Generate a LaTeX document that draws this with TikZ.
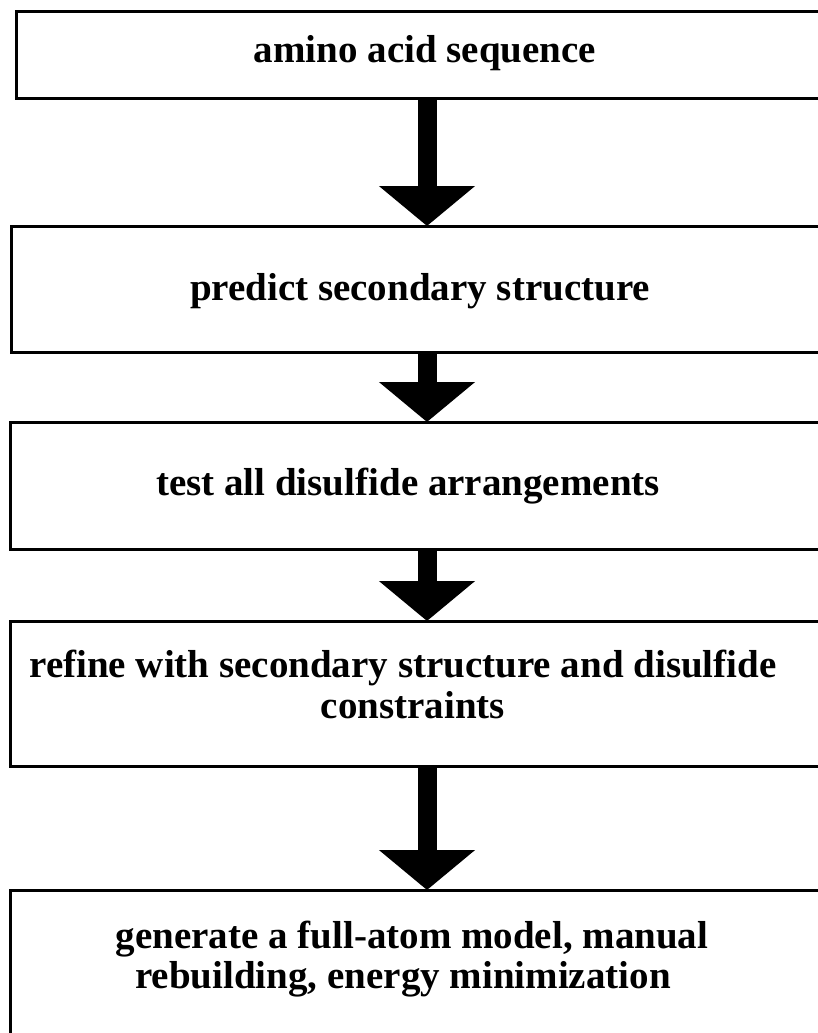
\documentclass[tikz,border=0pt]{standalone}
\usepackage{fontspec}
\setmainfont{Liberation Serif}
\usetikzlibrary{arrows.meta}
\begin{document}
\begin{tikzpicture}[x=1pt,y=-1pt,
  box/.style={draw=black, line width=3pt, rectangle, anchor=north west, inner sep=0pt, outer sep=0pt},
  label/.style={anchor=base, inner sep=0pt, font=\fontsize{39}{40}\selectfont\bfseries},
  bigarrow/.style={line width=19pt, -{Triangle[width=94pt,length=40pt]}, shorten >=0pt}]
\useasboundingbox (0,0) rectangle (818,1033);
\clip (0,0) rectangle (818,1033);
\coordinate (ax) at (427,0);
\node[box, minimum width=830pt, minimum height=86pt] (b1) at (16,12) {};
\node[box, minimum width=830pt, minimum height=126pt] (b2) at (11,226) {};
\node[box, minimum width=830pt, minimum height=127pt] (b3) at (10,422) {};
\node[box, minimum width=830pt, minimum height=145pt] (b4) at (10,621) {};
\node[box, minimum width=830pt, minimum height=200pt] (b5) at (10,890) {};
\node[label] (t1) at (425,63) {amino acid sequence};
\node[label] (t2) at (420,300) {predict secondary structure};
\node[label] (t3) at (408,495) {test all disulfide arrangements};
\node[label] (t4a) at (403,677) {refine with secondary structure and disulfide};
\node[label] (t4b) at (413,718) {constraints};
\node[label] (t5a) at (412,948) {generate a full-atom model, manual};
\node[label] (t5b) at (403,988) {rebuilding, energy minimization};
\draw[bigarrow] (b1.south -| ax) -- (b2.north -| ax);
\draw[bigarrow] (b2.south -| ax) -- (b3.north -| ax);
\draw[bigarrow] (b3.south -| ax) -- (b4.north -| ax);
\draw[bigarrow] (b4.south -| ax) -- (b5.north -| ax);
\end{tikzpicture}
\end{document}
